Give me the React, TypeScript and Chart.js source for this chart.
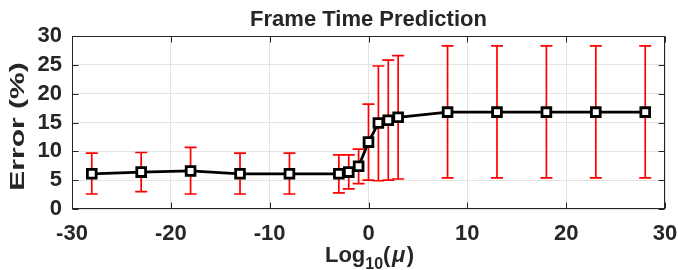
import { useEffect, useRef } from "react";
import { Chart, registerables } from "chart.js";

Chart.register(...registerables);

// ---- data ----
const muLog = [-28, -23, -18, -13, -8, -3, -2, -1, 0, 1, 2, 3, 8, 13, 18, 23, 28];
const meanError = [6.1, 6.4, 6.6, 6.1, 6.1, 6.1, 6.4, 7.4, 11.6, 14.9, 15.4, 15.9, 16.8, 16.8, 16.8, 16.8, 16.8];
const upperError = [9.7, 9.8, 10.7, 9.7, 9.7, 9.4, 9.4, 10.4, 18.2, 24.8, 25.8, 26.6, 28.3, 28.3, 28.3, 28.3, 28.3];
const lowerError = [2.6, 3.0, 2.6, 2.6, 2.6, 2.8, 3.5, 4.4, 5.0, 4.9, 5.0, 5.2, 5.4, 5.4, 5.4, 5.4, 5.4];
const xTickValues = [-30, -20, -10, 0, 10, 20, 30];
const yTickValues = [0, 5, 10, 15, 20, 25, 30];
const titleText = "Frame Time Prediction";
const yTitleText = "Error (%)";
const xTitleMain = "Log";
const xTitleSub = "10";
const xTitleVar = "μ";

const AXIS = "#262626";
const FONT = "'Liberation Sans', Arial, Helvetica, sans-serif";

const errorBarPlugin = {
  id: "errorBars",
  beforeDatasetsDraw(chart: any) {
    const { ctx, scales } = chart;
    const x = scales.x;
    const y = scales.y;
    ctx.save();
    ctx.strokeStyle = "#ff0000";
    ctx.lineWidth = 1.7;
    const cap = 6;
    muLog.forEach((v, i) => {
      const px = x.getPixelForValue(v);
      const top = y.getPixelForValue(upperError[i]);
      const bot = y.getPixelForValue(lowerError[i]);
      ctx.beginPath();
      ctx.moveTo(px, top);
      ctx.lineTo(px, bot);
      ctx.moveTo(px - cap, top);
      ctx.lineTo(px + cap, top);
      ctx.moveTo(px - cap, bot);
      ctx.lineTo(px + cap, bot);
      ctx.stroke();
    });
    ctx.restore();
  },
};

const boxPlugin = {
  id: "boxTicks",
  afterDraw(chart: any) {
    const { ctx, chartArea: a, scales } = chart;
    const x = scales.x;
    const y = scales.y;
    const L = Math.round(a.left) + 0.5;
    const R = Math.round(a.right) - 0.5;
    const T = Math.round(a.top) + 0.5;
    const B = Math.round(a.bottom) - 0.5;
    const len = 6;
    ctx.save();
    ctx.strokeStyle = AXIS;
    ctx.lineWidth = 1;
    ctx.beginPath();
    x.ticks.forEach((t: any) => {
      const px = Math.round(x.getPixelForValue(t.value)) + 0.5;
      ctx.moveTo(px, B);
      ctx.lineTo(px, B - len);
      ctx.moveTo(px, T);
      ctx.lineTo(px, T + len);
    });
    y.ticks.forEach((t: any) => {
      const py = Math.round(y.getPixelForValue(t.value)) + 0.5;
      ctx.moveTo(L, py);
      ctx.lineTo(L + len, py);
      ctx.moveTo(R, py);
      ctx.lineTo(R - len, py);
    });
    ctx.stroke();
    ctx.strokeRect(L, T, R - L, B - T);

    ctx.fillStyle = AXIS;

    // y-axis title (drawn wide, as in the reference)
    ctx.save();
    ctx.translate(18, (a.top + a.bottom) / 2 + 4);
    ctx.rotate(-Math.PI / 2);
    ctx.scale(1.5, 1);
    ctx.font = `bold 20px ${FONT}`;
    ctx.textAlign = "center";
    ctx.textBaseline = "middle";
    ctx.fillText(yTitleText, 0, 0);
    ctx.restore();

    // x-axis title with subscript
    const mainFont = `bold 22px ${FONT}`;
    const subFont = `bold 16px ${FONT}`;
    const varFont = `italic bold 22px ${FONT}`;
    ctx.textBaseline = "alphabetic";
    ctx.textAlign = "left";
    ctx.font = mainFont;
    const wMain = ctx.measureText(xTitleMain).width;
    const wParen1 = ctx.measureText("(").width;
    const wParen2 = ctx.measureText(")").width;
    ctx.font = subFont;
    const wSub = ctx.measureText(xTitleSub).width;
    ctx.font = varFont;
    const wVar = ctx.measureText(xTitleVar).width;
    const gap = 1.5;
    const total = wMain + wSub + wParen1 + wVar + wParen2 + 2 * gap;
    let cx = (a.left + a.right) / 2 - total / 2 + 1;
    const base = 262;
    ctx.font = mainFont;
    ctx.fillText(xTitleMain, cx, base);
    cx += wMain;
    ctx.font = subFont;
    ctx.fillText(xTitleSub, cx, base + 7);
    cx += wSub;
    ctx.font = mainFont;
    ctx.fillText("(", cx, base);
    cx += wParen1 + gap;
    ctx.font = varFont;
    ctx.fillText(xTitleVar, cx, base);
    cx += wVar + gap;
    ctx.font = mainFont;
    ctx.fillText(")", cx, base);
    ctx.restore();
  },
};

export default function App() {
  const ref = useRef<HTMLCanvasElement | null>(null);
  useEffect(() => {
    if (!ref.current) return;
    const chart = new Chart(ref.current, {
      type: "scatter",
      data: {
        datasets: [
          {
            data: muLog.map((v, i) => ({ x: v, y: meanError[i] })),
            showLine: true,
            borderColor: "#000000",
            borderWidth: 2.8,
            pointStyle: "rect",
            pointRadius: 6.2,
            pointBorderWidth: 2.8,
            pointBackgroundColor: "#ffffff",
            pointBorderColor: "#000000",
          },
        ],
      },
      options: {
        responsive: false,
        animation: false,
        layout: { padding: { left: 0, right: 13, top: 0, bottom: 0 } },
        plugins: {
          legend: { display: false },
          tooltip: { enabled: false },
          title: {
            display: true,
            text: titleText,
            color: AXIS,
            fullSize: false,
            font: { family: FONT, size: 22, weight: "bold" },
            padding: { top: 7, bottom: 2.6 },
          },
        },
        scales: {
          x: {
            type: "linear",
            min: -30,
            max: 30,
            afterBuildTicks: (s: any) => {
              s.ticks = xTickValues.map((v) => ({ value: v }));
            },
            afterFit: (s: any) => {
              s.height = 61;
              s.paddingLeft = 0;
              s.paddingRight = 0;
            },
            ticks: {
              color: AXIS,
              padding: 12,
              autoSkip: false,
              maxRotation: 0,
              font: { family: FONT, size: 22, weight: "bold" },
            },
            grid: { color: "#e3e3e3", drawTicks: false },
            border: { display: false },
          },
          y: {
            type: "linear",
            min: 0,
            max: 30,
            afterBuildTicks: (s: any) => {
              s.ticks = yTickValues.map((v) => ({ value: v }));
            },
            afterFit: (s: any) => {
              s.width = 72;
              s.paddingTop = 0;
              s.paddingBottom = 0;
            },
            ticks: {
              color: AXIS,
              padding: 10,
              autoSkip: false,
              font: { family: FONT, size: 22, weight: "bold" },
            },
            grid: { color: "#e3e3e3", drawTicks: false },
            border: { display: false },
          },
        },
      },
      plugins: [errorBarPlugin, boxPlugin],
    });
    return () => chart.destroy();
  }, []);
  return (
    <div style={{ position: "absolute", left: 0, top: 0, width: 678, height: 270, background: "#fff" }}>
      <canvas ref={ref} width={678} height={270} />
    </div>
  );
}
